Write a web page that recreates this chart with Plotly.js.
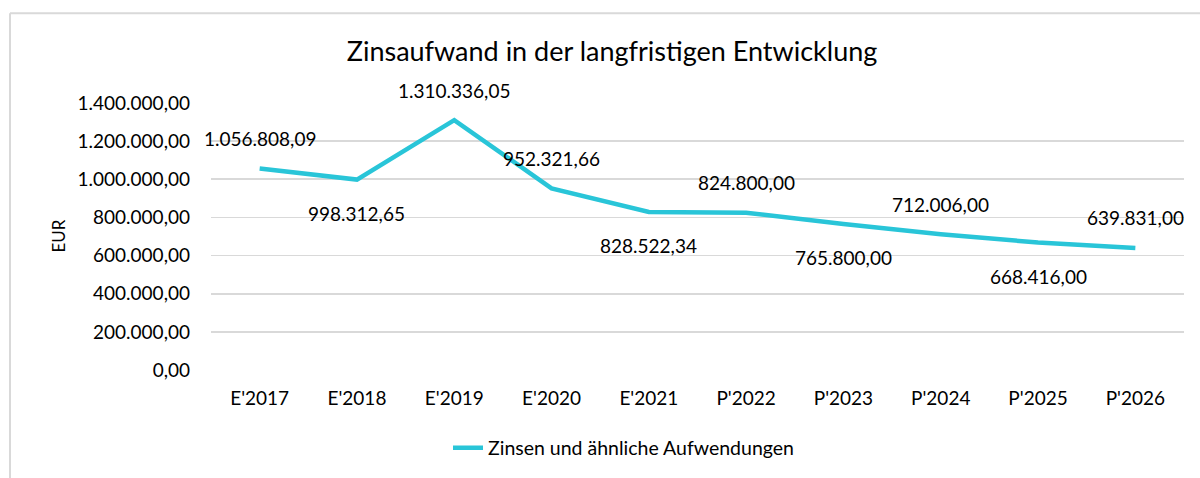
<!DOCTYPE html>
<html>
<head>
<meta charset="utf-8">
<script src="https://cdn.plot.ly/plotly-3.0.1.min.js"></script>
<style>
  html, body { margin: 0; padding: 0; background: #fff; }
  #chart { width: 1200px; height: 478px; }
</style>
</head>
<body>
<div id="chart"></div>
<script>
const categories = ["E'2017", "E'2018", "E'2019", "E'2020", "E'2021", "P'2022", "P'2023", "P'2024", "P'2025", "P'2026"];
const zinsen = [1056808.09, 998312.65, 1310336.05, 952321.66, 828522.34, 824800.00, 765800.00, 712006.00, 668416.00, 639831.00];
const labelSide = ["above", "below", "above", "above", "below", "above", "below", "above", "below", "above"];
const yTicks = [0, 200000, 400000, 600000, 800000, 1000000, 1200000, 1400000];
const seriesName = "Zinsen und ähnliche Aufwendungen";
const chartTitle = "Zinsaufwand in der langfristigen Entwicklung";
const yTitle = "EUR";

function fmtDE(v) {
  const fixed = v.toFixed(2);
  const parts = fixed.split(".");
  const intPart = parts[0].replace(/\B(?=(\d{3})+(?!\d))/g, ".");
  return intPart + "," + parts[1];
}

const FONT = "Lato, 'Open Sans', sans-serif";
const W = 1200, H = 478;
const L = 211, R = 16, T = 103, B = 107;
const pw = W - L - R, ph = H - T - B;
const px2x = p => (p - L) / pw;
const py2y = p => (H - B - p) / ph;

const annotations = categories.map((c, i) => ({
  x: c, y: zinsen[i], xref: 'x', yref: 'y',
  text: fmtDE(zinsen[i]), showarrow: false,
  yanchor: 'middle', xanchor: 'center',
  yshift: labelSide[i] === 'above' ? 30 : -34,
  font: { family: FONT, size: 19, color: '#000' }
}));
annotations.push({
  xref: 'paper', yref: 'paper', x: px2x(58), y: py2y(237),
  text: yTitle, showarrow: false, textangle: -90,
  xanchor: 'center', yanchor: 'middle',
  font: { family: FONT, size: 17, color: '#000' }
});

const trace = {
  type: 'scatter', mode: 'lines',
  x: categories, y: zinsen, name: seriesName,
  line: { color: '#29C5D8', width: 4.5 },
  hoverinfo: 'skip'
};

const layout = {
  width: W, height: H,
  margin: { l: L, r: R, t: T, b: B, pad: 0 },
  paper_bgcolor: '#fff', plot_bgcolor: '#fff',
  separators: ',.',
  font: { family: FONT, size: 19, color: '#000' },
  title: {
    text: chartTitle, x: px2x(612), xref: 'paper', xanchor: 'center',
    y: 1 - 52 / H, yanchor: 'middle',
    font: { family: FONT, size: 27, color: '#000' }
  },
  showlegend: true,
  legend: {
    orientation: 'h', x: px2x(448), y: py2y(448), xanchor: 'left', yanchor: 'middle',
    font: { family: FONT, size: 19.5, color: '#000' }, bgcolor: 'rgba(0,0,0,0)'
  },
  xaxis: {
    type: 'category', range: [-0.5, categories.length - 0.5],
    showgrid: false, zeroline: false, showline: false,
    ticks: '', ticklabelstandoff: 15,
    tickfont: { family: FONT, size: 19, color: '#000' }
  },
  yaxis: {
    range: [0, 1400000], tickvals: yTicks, tickformat: ',.2f',
    showgrid: true, gridcolor: '#d9d9d9', gridwidth: 1.6,
    zeroline: false, showline: false, ticks: '', ticklabelstandoff: 20,
    tickfont: { family: FONT, size: 19, color: '#000' }
  },
  annotations: annotations,
  shapes: [
    { type: 'line', xref: 'paper', yref: 'paper', x0: px2x(10), x1: px2x(10), y0: py2y(13), y1: py2y(480), line: { color: '#d9d9d9', width: 2 } },
    { type: 'line', xref: 'paper', yref: 'paper', x0: px2x(10), x1: px2x(1202), y0: py2y(13), y1: py2y(13), line: { color: '#d9d9d9', width: 2 } }
  ]
};

Plotly.newPlot('chart', [trace], layout, { staticPlot: true, displayModeBar: false });
</script>
</body>
</html>
